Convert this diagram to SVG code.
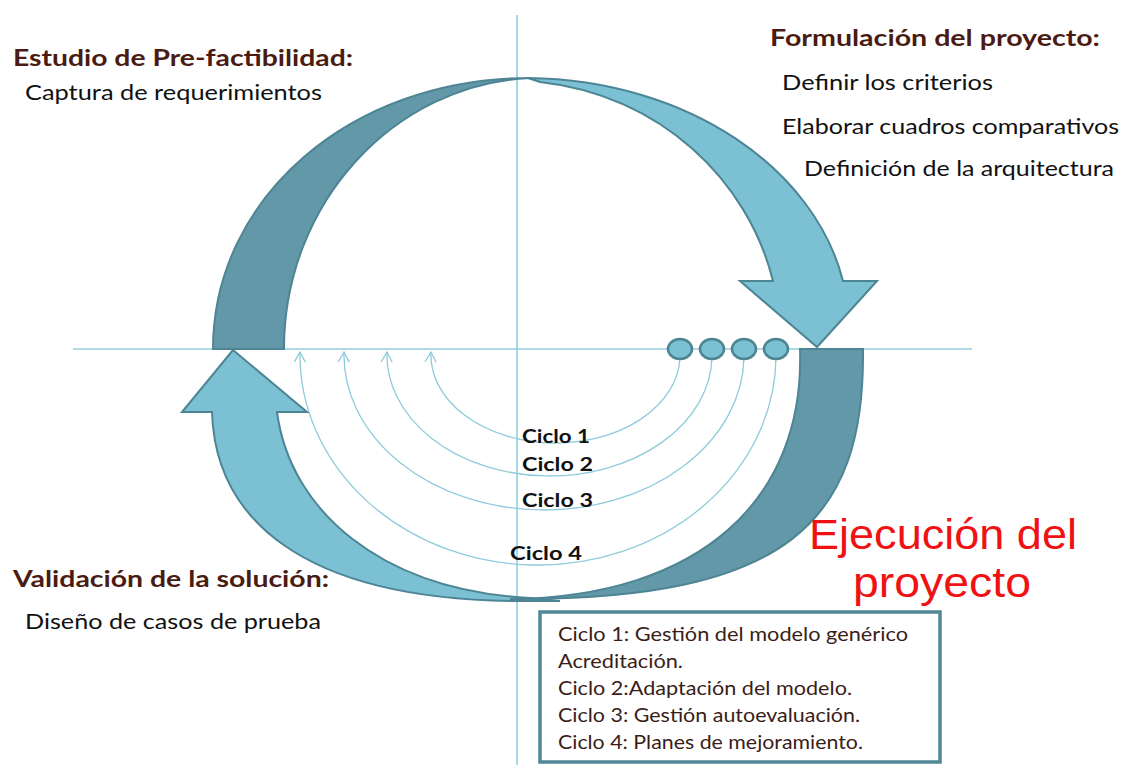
<svg xmlns="http://www.w3.org/2000/svg" width="1124" height="765" viewBox="0 0 1124 765">
<style>
.ax{stroke:#93cfdd;stroke-width:1.6;fill:none}
.cy{stroke:#8fcbdc;stroke-width:1.3;fill:none}
.dk{fill:#6398a8;stroke:#4d8595;stroke-width:2}
.lt{fill:#7cc0d3;stroke:#4d8595;stroke-width:2}
.dot{fill:#7cc0d3;stroke:#4d8595;stroke-width:2.5}
.h{font-family:Lato,"Liberation Sans",sans-serif;font-weight:700;font-size:23px;fill:#4a1b12}
.b{font-family:Lato,"Liberation Sans",sans-serif;font-size:22px;fill:#111}
.c{font-family:Lato,"Liberation Sans",sans-serif;font-weight:700;font-size:19px;fill:#111}
.bx{font-family:Lato,"Liberation Sans",sans-serif;font-size:19px;fill:#3a1d17}
.red{font-family:"Liberation Sans",Arial,sans-serif;font-size:43px;fill:#f01212}
</style>
<defs>
<marker id="ah" viewBox="-11 -7 13 14" markerWidth="13" markerHeight="14" refX="0" refY="0" orient="auto" markerUnits="userSpaceOnUse">
<path d="M-10,-5.5 L0,0 L-10,5.5" fill="none" stroke="#8fcbdc" stroke-width="1.3"/>
</marker>
</defs>
<rect width="1124" height="765" fill="#ffffff"/>
<g id="axes">
<line class="ax" x1="517" y1="15" x2="517" y2="765"/>
<line class="ax" x1="73" y1="349" x2="972" y2="349"/>
</g>
<g id="connectors">
<path class="cy" d="M680,358 A124.5,88 0 0 1 431,352" marker-end="url(#ah)"/>
<path class="cy" d="M712,358 A162.5,121 0 0 1 387,352" marker-end="url(#ah)"/>
<path class="cy" d="M744,358 A200,155 0 0 1 344,352" marker-end="url(#ah)"/>
<path class="cy" d="M776,358 A238,210 0 0 1 300,352" marker-end="url(#ah)"/>
</g>
<g id="arrow-top-dark">
<path class="dk" d="M213,349 C213,199 349,78 530,78 C394,84 284,203 284,349 Z"/>
</g>
<g id="arrow-top-light">
<path class="lt" d="M528,78 C690,80 815,170 843,281 L877,281 L817,347 L740,281 L773,281 C748,180 660,95 540,82 Z"/>
</g>
<g id="arrow-bottom-light">
<path class="lt" d="M233,350 L307,412 L277,412 C290,510 380,590 530,598 L560,601 L540,601 C290,605 215,510 212,412 L182,412 Z"/>
</g>
<g id="arrow-right-dark">
<path class="dk" d="M800,349 L863,349 C865,520 790,601 510,599 C700,597 805,500 800,349 Z"/>
</g>
<g id="cycle-dots">
<ellipse class="dot" cx="680" cy="349" rx="12" ry="10"/>
<ellipse class="dot" cx="712" cy="349" rx="12" ry="10"/>
<ellipse class="dot" cx="744" cy="349" rx="12" ry="10"/>
<ellipse class="dot" cx="776" cy="349" rx="12" ry="10"/>
</g>
<g id="cycle-labels">
<text class="c" x="522" y="443" textLength="68" lengthAdjust="spacingAndGlyphs">Ciclo 1</text>
<text class="c" x="522" y="471" textLength="71" lengthAdjust="spacingAndGlyphs">Ciclo 2</text>
<text class="c" x="522" y="507" textLength="71" lengthAdjust="spacingAndGlyphs">Ciclo 3</text>
<text class="c" x="510" y="560" textLength="72" lengthAdjust="spacingAndGlyphs">Ciclo 4</text>
</g>
<g id="prefactibilidad">
<text class="h" x="13" y="66" textLength="340" lengthAdjust="spacingAndGlyphs">Estudio de Pre-factibilidad:</text>
<text class="b" x="25" y="100" textLength="297" lengthAdjust="spacingAndGlyphs">Captura de requerimientos</text>
</g>
<g id="formulacion">
<text class="h" x="770" y="46" textLength="330" lengthAdjust="spacingAndGlyphs">Formulación del proyecto:</text>
<text class="b" x="782" y="90" textLength="211" lengthAdjust="spacingAndGlyphs">Definir los criterios</text>
<text class="b" x="782" y="134" textLength="337" lengthAdjust="spacingAndGlyphs">Elaborar cuadros comparativos</text>
<text class="b" x="804" y="176" textLength="310" lengthAdjust="spacingAndGlyphs">Definición de la arquitectura</text>
</g>
<g id="validacion">
<text class="h" x="13" y="587" textLength="316" lengthAdjust="spacingAndGlyphs">Validación de la solución:</text>
<text class="b" x="25" y="629" textLength="296" lengthAdjust="spacingAndGlyphs">Diseño de casos de prueba</text>
</g>
<g id="ejecucion">
<text class="red" x="943" y="549" text-anchor="middle" textLength="268" lengthAdjust="spacingAndGlyphs">Ejecución del</text>
<text class="red" x="942" y="597" text-anchor="middle" textLength="178" lengthAdjust="spacingAndGlyphs">proyecto</text>
</g>
<g id="legend-box">
<rect x="540" y="612" width="400" height="150" fill="#ffffff" stroke="#4f8797" stroke-width="3.5"/>
<text class="bx" x="558" y="641" textLength="350" lengthAdjust="spacingAndGlyphs">Ciclo 1: Gestión del modelo genérico</text>
<text class="bx" x="558" y="668" textLength="125" lengthAdjust="spacingAndGlyphs">Acreditación.</text>
<text class="bx" x="558" y="695" textLength="294" lengthAdjust="spacingAndGlyphs">Ciclo 2:Adaptación del modelo.</text>
<text class="bx" x="558" y="722" textLength="302" lengthAdjust="spacingAndGlyphs">Ciclo 3: Gestión autoevaluación.</text>
<text class="bx" x="558" y="749" textLength="305" lengthAdjust="spacingAndGlyphs">Ciclo 4: Planes de mejoramiento.</text>
</g>
</svg>
